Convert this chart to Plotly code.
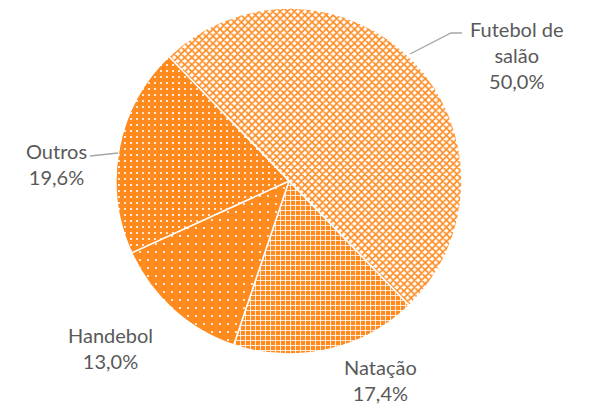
import plotly.graph_objects as go

# Data
labels = ["Futebol de salão", "Natação", "Handebol", "Outros"]
values = [50.0, 17.4, 13.0, 19.6]
label_text = ["Futebol de<br>salão", "Natação", "Handebol", "Outros"]

W, H = 589, 409
OFF = 8  # page body margin shifts the figure
orange = "#FF8A1E"

# screen pixel -> paper helpers
def px(x):
    return (x - OFF) / W

def py(y):
    return 1 - (y - OFF) / H

fig = go.Figure()
fig.add_trace(go.Pie(
    labels=labels,
    values=values,
    sort=False,
    direction="clockwise",
    rotation=-44,
    textinfo="none",
    hoverinfo="label+percent",
    showlegend=False,
    domain=dict(x=[px(116), px(462)], y=[py(354), py(8)]),
    marker=dict(
        colors=["white", orange, orange, orange],
        line=dict(color="white", width=1.5),
        pattern=dict(
            shape=["x", "+", ".", "."],
            fgcolor=[orange, "white", "white", "white"],
            bgcolor=["white", orange, orange, orange],
            size=[5, 5, 8, 6],
            solidity=[0.55, 0.3, 0.06, 0.1],
            fillmode="replace",
        ),
    ),
))

# label positions (screen pixel centres) and leader lines
label_pos = [(517, 55), (380, 380), (110, 348), (56, 164)]
for txt, v, (x, y) in zip(label_text, values, label_pos):
    fig.add_annotation(
        x=px(x), y=py(y), xref="paper", yref="paper",
        text=txt + "<br>" + ("%.1f%%" % v).replace(".", ","),
        showarrow=False, xanchor="center", yanchor="middle",
        font=dict(family="Lato", size=20, color="#595959"),
    )

line_style = dict(color="#A6A6A6", width=1.3)
fig.add_shape(type="path", xref="paper", yref="paper",
              path="M %f %f L %f %f L %f %f" % (px(410), py(54), px(451), py(33), px(462), py(33)),
              line=line_style)
fig.add_shape(type="line", xref="paper", yref="paper",
              x0=px(90), y0=py(156), x1=px(118), y1=py(153), line=line_style)

fig.update_layout(
    width=W, height=H,
    margin=dict(l=0, r=0, t=0, b=0),
    paper_bgcolor="white",
    plot_bgcolor="white",
)

fig.write_html("out.html")
